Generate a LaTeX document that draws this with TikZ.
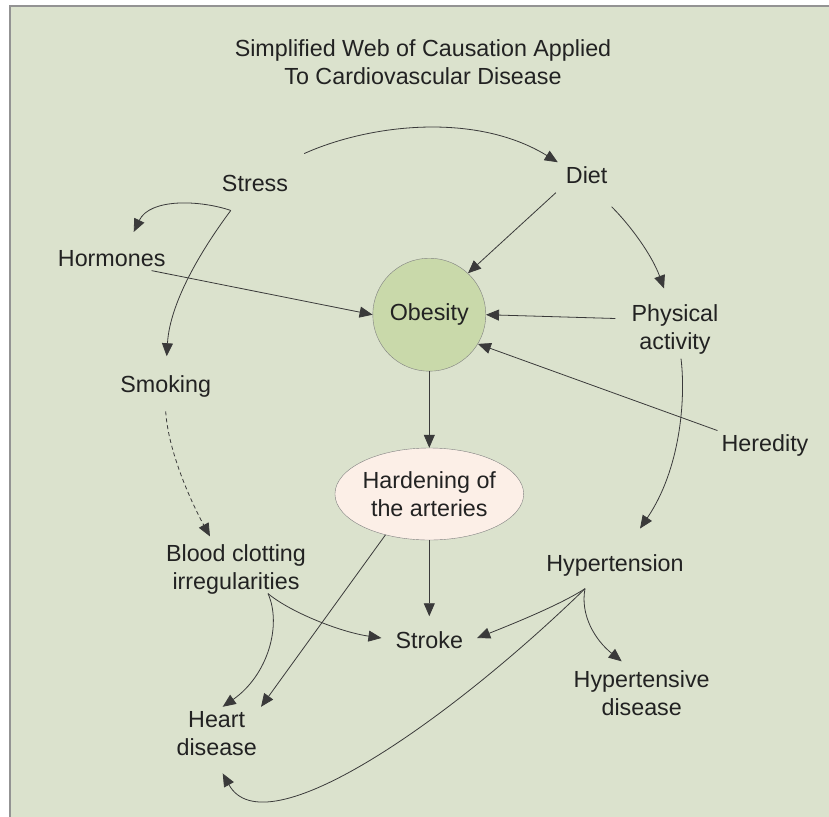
\documentclass[tikz,border=0pt]{standalone}
\usepackage{fontspec}
\setmainfont{Liberation Sans}
\usetikzlibrary{arrows.meta,shapes.geometric}
\definecolor{webbg}{HTML}{DBE2CD}
\definecolor{obesefill}{HTML}{C9D9AA}
\definecolor{hardfill}{HTML}{FCEFE7}
\definecolor{linegray}{HTML}{3A3A3A}
\definecolor{textgray}{HTML}{222222}
\begin{document}
\begin{tikzpicture}[x=1pt,y=-1pt,
    >={Triangle[length=13pt,width=11pt]}]
  \useasboundingbox (0,0) rectangle (829,816);
  \draw[fill=webbg,draw=gray!85,line width=1.5pt] (10,6) rectangle (845,830);
  % labels
  \begin{scope}[every node/.style={align=center,inner sep=4pt,text=textgray,
      font=\fontsize{23.3}{28}\selectfont}]
    \node (title) at (423,61.9) {Simplified Web of Causation Applied\\To Cardiovascular Disease};
    \node (stress) at (255,183) {Stress};
    \node (diet) at (586.7,175) {Diet};
    \node (hormones) at (111.7,258.3) {Hormones};
    \node (physical) at (675,329.5) {Physical\\activity};
    \node (smoking) at (165.7,386.3) {Smoking};
    \node (heredity) at (765,445.6) {Heredity};
    \node (blood) at (236,569.5) {Blood clotting\\irregularities};
    \node (hypertension) at (615,565.6) {Hypertension};
    \node (stroke) at (429.3,640) {Stroke};
    \node (hypertensive) at (641.7,693.1) {Hypertensive\\disease};
    \node (heart) at (216.7,733.1) {Heart\\disease};
    \node[circle,draw=gray,fill=obesefill,minimum size=113pt,inner sep=0pt]
      (obesity) at (429.3,314.7) {Obesity};
    \node[ellipse,draw=gray,fill=hardfill,minimum width=188pt,minimum height=92pt,inner sep=0pt]
      (hardening) at (429.3,494) {Hardening of\\the arteries};
  \end{scope}
  % straight links
  \begin{scope}[every edge/.style={draw=linegray,line width=0.8pt,->}]
    \path ([shift={(-6,5)}]diet.south west) edge (obesity.47);
    \path ([shift={(-18,0)}]hormones.south east) edge (obesity.west);
    \path ([shift={(-12,-11)}]physical.west) edge (obesity.east);
    \path (heredity.north west) edge (obesity.-31);
    \path (obesity) edge (hardening);
    \path (hardening) edge ([shift={(0,-11)}]stroke.north);
    \path (hardening.223) edge (heart.north east);
  \end{scope}
  % curved links
  \begin{scope}[draw=linegray,line width=0.8pt,->]
    \draw ([shift={(12,-17)}]stress.north east) .. controls (370,124) and (476,112) .. ([shift={(-4,0)}]diet.north west);
    \draw ([shift={(13,15)}]stress.south west) .. controls (200,200) and (150,198) .. ([shift={(22,-14)}]hormones.north);
    \draw ([shift={(13,15)}]stress.south west) .. controls (205,245) and (170,300) .. ([shift={(1,-15)}]smoking.north);
    \draw ([shift={(0,19)}]diet.south east) .. controls (630,225) and (652,255) .. ([shift={(-11,-12)}]physical.north);
    \draw ([shift={(6,0)}]physical.south) .. controls (686,400) and (680,470) .. ([shift={(25,-22)}]hypertension.north);
    \draw[dash pattern=on 4pt off 3pt] ([shift={(0,10)}]smoking.south) .. controls (168,450) and (190,500) .. ([shift={(-26,-4)}]blood.north);
    \draw ([shift={(32,-5)}]blood.south) .. controls (290,612) and (340,632) .. ([shift={(-10,-2)}]stroke.west);
    \draw ([shift={(32,-5)}]blood.south) .. controls (282,625) and (268,675) .. ([shift={(6,0)}]heart.north);
    \draw ([shift={(-30,8)}]hypertension.south) .. controls (560,605) and (510,625) .. ([shift={(10,-2)}]stroke.east);
    \draw ([shift={(-30,8)}]hypertension.south) .. controls (580,615) and (595,640) .. ([shift={(-20,-5)}]hypertensive.north);
    \draw ([shift={(-30,8)}]hypertension.south) .. controls (450,720) and (265,850) .. ([shift={(6,14)}]heart.south);
  \end{scope}
\end{tikzpicture}
\end{document}
